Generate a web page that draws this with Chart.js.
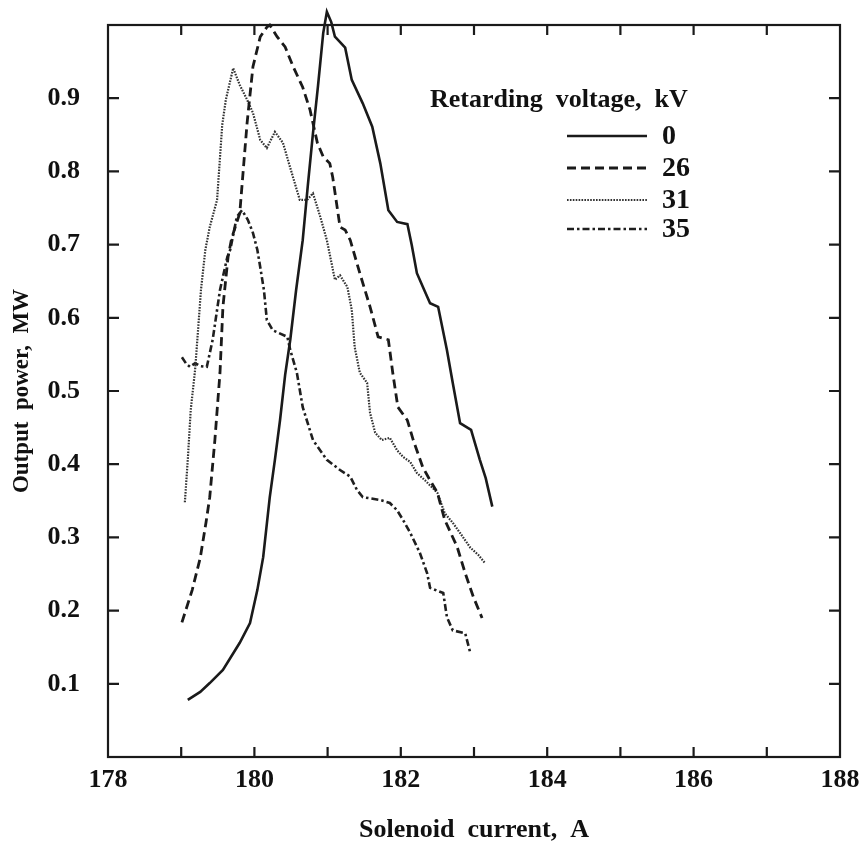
<!DOCTYPE html>
<html lang="en">
<head>
    <meta charset="UTF-8">
    <title>Output power vs solenoid current</title>
    <script src="https://cdn.jsdelivr.net/npm/chart.js"></script>
    <style>
        html, body { margin: 0; padding: 0; background: #fff; }
        #containerCanvas { width: 865px; height: 846px; }
    </style>
</head>
<body>
    <div id="containerCanvas">
        <canvas id="myChart" width="865" height="846"></canvas>
    </div>
</body>
</html>

<script>

// axis ticks
var xTickLabels = [178, 180, 182, 184, 186, 188];
var xTickMarks = [179, 180, 181, 182, 183, 184, 185, 186, 187];
var yTickLabels = [0.1, 0.2, 0.3, 0.4, 0.5, 0.6, 0.7, 0.8, 0.9];

var legendTitle = "Retarding  voltage,  kV";
var voltages = ["0", "26", "31", "35"];

// 0 kV
var current0 = [179.09, 179.26, 179.39, 179.57, 179.80, 179.94, 180.04, 180.12, 180.21, 180.28, 180.35, 180.42, 180.49, 180.57, 180.66, 180.73, 180.80, 180.87, 180.94, 180.99, 181.05, 181.10, 181.24, 181.33, 181.48, 181.61, 181.72, 181.83, 181.95, 182.09, 182.15, 182.22, 182.32, 182.40, 182.51, 182.63, 182.71, 182.81, 182.96, 183.08, 183.16, 183.25];
var power0 = [0.078, 0.089, 0.101, 0.119, 0.156, 0.183, 0.228, 0.273, 0.355, 0.406, 0.460, 0.522, 0.570, 0.638, 0.706, 0.781, 0.852, 0.918, 0.989, 1.018, 1.004, 0.984, 0.969, 0.925, 0.893, 0.861, 0.811, 0.747, 0.731, 0.728, 0.699, 0.661, 0.638, 0.620, 0.615, 0.556, 0.511, 0.456, 0.447, 0.406, 0.381, 0.342];

// 26 kV
var current26 = [179.01, 179.15, 179.26, 179.34, 179.39, 179.46, 179.53, 179.57, 179.64, 179.69, 179.80, 179.90, 179.98, 180.08, 180.17, 180.21, 180.31, 180.42, 180.53, 180.66, 180.76, 180.86, 180.94, 181.03, 181.07, 181.17, 181.24, 181.31, 181.44, 181.58, 181.69, 181.83, 181.89, 181.96, 182.09, 182.17, 182.30, 182.40, 182.50, 182.60, 182.77, 182.88, 182.99, 183.11];
var power26 = [0.184, 0.228, 0.272, 0.321, 0.355, 0.433, 0.525, 0.615, 0.683, 0.709, 0.743, 0.866, 0.943, 0.984, 0.997, 1.000, 0.984, 0.970, 0.943, 0.915, 0.884, 0.839, 0.820, 0.811, 0.792, 0.724, 0.720, 0.706, 0.661, 0.615, 0.574, 0.570, 0.525, 0.478, 0.460, 0.433, 0.396, 0.378, 0.361, 0.324, 0.287, 0.251, 0.219, 0.190];

// 31 kV
var current31 = [179.05, 179.09, 179.13, 179.19, 179.23, 179.27, 179.33, 179.39, 179.49, 179.56, 179.61, 179.71, 179.80, 179.90, 179.98, 180.08, 180.17, 180.28, 180.39, 180.51, 180.62, 180.72, 180.80, 180.90, 180.99, 181.10, 181.17, 181.27, 181.33, 181.37, 181.44, 181.54, 181.58, 181.65, 181.74, 181.85, 181.95, 182.03, 182.13, 182.22, 182.33, 182.50, 182.60, 182.71, 182.81, 182.95, 183.06, 183.15];
var power31 = [0.348, 0.406, 0.474, 0.529, 0.583, 0.638, 0.693, 0.724, 0.761, 0.863, 0.898, 0.941, 0.918, 0.898, 0.880, 0.843, 0.832, 0.854, 0.839, 0.798, 0.761, 0.761, 0.770, 0.738, 0.706, 0.652, 0.658, 0.642, 0.611, 0.560, 0.525, 0.511, 0.470, 0.443, 0.433, 0.436, 0.419, 0.410, 0.403, 0.388, 0.378, 0.361, 0.333, 0.320, 0.306, 0.286, 0.276, 0.265];

// 35 kV
var current35 = [179.01, 179.07, 179.12, 179.19, 179.26, 179.35, 179.43, 179.53, 179.63, 179.67, 179.76, 179.83, 179.91, 179.98, 180.04, 180.08, 180.13, 180.17, 180.25, 180.45, 180.49, 180.58, 180.66, 180.80, 180.99, 181.17, 181.31, 181.40, 181.48, 181.72, 181.85, 181.95, 182.03, 182.13, 182.26, 182.36, 182.40, 182.58, 182.63, 182.71, 182.88, 182.95];
var power35 = [0.546, 0.537, 0.533, 0.538, 0.534, 0.533, 0.570, 0.638, 0.683, 0.693, 0.738, 0.747, 0.734, 0.716, 0.693, 0.669, 0.638, 0.597, 0.583, 0.574, 0.556, 0.525, 0.478, 0.433, 0.406, 0.392, 0.383, 0.365, 0.355, 0.351, 0.347, 0.337, 0.324, 0.306, 0.279, 0.251, 0.231, 0.224, 0.191, 0.173, 0.169, 0.142];

var serif = "'Liberation Serif', 'Times New Roman', serif";

function pontos(xs, ys) {
    var lista = [];
    for (var i = 0; i < xs.length; i++) {
        lista.push({ x: xs[i], y: ys[i] });
    }
    return lista;
}

function serie(label, xs, ys, cor, dash, largura) {
    return {
        label: label,
        data: pontos(xs, ys),
        borderColor: cor,
        borderWidth: largura,
        borderDash: dash,
        pointRadius: 0,
        tension: 0,
        fill: false,
        clip: false
    };
}

// frame box with inward ticks on all four sides
var molduraPlugin = {
    id: "moldura",
    afterDraw: function (chart) {
        var ctx = chart.ctx;
        var a = chart.chartArea;
        var xs = chart.scales.x;
        var ys = chart.scales.y;
        ctx.save();
        ctx.strokeStyle = "#1a1a1a";
        ctx.lineWidth = 2.2;
        ctx.strokeRect(a.left, a.top, a.right - a.left, a.bottom - a.top);
        ctx.beginPath();
        xTickMarks.forEach(function (v) {
            var px = xs.getPixelForValue(v);
            ctx.moveTo(px, a.bottom);
            ctx.lineTo(px, a.bottom - 10);
            ctx.moveTo(px, a.top);
            ctx.lineTo(px, a.top + 10);
        });
        yTickLabels.forEach(function (v) {
            var py = ys.getPixelForValue(v);
            ctx.moveTo(a.left, py);
            ctx.lineTo(a.left + 11, py);
            ctx.moveTo(a.right, py);
            ctx.lineTo(a.right - 11, py);
        });
        ctx.stroke();
        ctx.restore();
    }
};

// legend drawn inside the plot, upper right
var legendaPlugin = {
    id: "legenda",
    afterDraw: function (chart) {
        var ctx = chart.ctx;
        ctx.save();
        ctx.fillStyle = "#111";
        ctx.font = "bold 26px " + serif;
        ctx.textBaseline = "middle";
        ctx.textAlign = "left";
        ctx.fillText(legendTitle, 430, 100);
        var linhas = [136, 168, 200, 229];
        chart.data.datasets.forEach(function (ds, i) {
            var y = linhas[i];
            ctx.beginPath();
            ctx.strokeStyle = ds.borderColor;
            ctx.lineWidth = ds.borderWidth;
            ctx.setLineDash(ds.borderDash || []);
            ctx.moveTo(567, y);
            ctx.lineTo(647, y);
            ctx.stroke();
            ctx.setLineDash([]);
            ctx.font = "bold 28px " + serif;
            ctx.fillText(ds.label, 662, y + 1);
        });
        ctx.restore();
    }
};

var dados = {
    datasets: [
        serie(voltages[0], current0, power0, "#1a1a1a", [], 2.6),
        serie(voltages[1], current26, power26, "#1a1a1a", [9, 5], 2.8),
        serie(voltages[2], current31, power31, "#333", [1.6, 1.3], 2.2),
        serie(voltages[3], current35, power35, "#1f1f1f", [7, 3, 2.5, 3], 2.6)
    ]
};

var options = {
    responsive: false,
    animation: false,
    layout: { padding: { top: 25, right: 25, left: 0, bottom: 0 } },
    plugins: {
        legend: { display: false },
        tooltip: { enabled: false }
    },
    scales: {
        x: {
            type: "linear",
            min: 178,
            max: 188,
            afterBuildTicks: function (scale) {
                scale.ticks = xTickLabels.map(function (v) { return { value: v }; });
            },
            afterFit: function (scale) {
                scale.height = 89;
                scale.paddingLeft = 0;
                scale.paddingRight = 0;
            },
            grid: { display: false, drawTicks: false },
            border: { display: false },
            ticks: {
                padding: 8,
                color: "#111",
                font: { family: serif, size: 26, weight: "bold" },
                callback: function (v) { return String(v); }
            },
            title: {
                display: true,
                text: "Solenoid  current,  A",
                color: "#111",
                font: { family: serif, size: 26, weight: "bold" },
                padding: { top: 0, bottom: 0 }
            }
        },
        y: {
            type: "linear",
            min: 0,
            max: 1,
            afterBuildTicks: function (scale) {
                scale.ticks = yTickLabels.map(function (v) { return { value: v }; });
            },
            afterFit: function (scale) {
                scale.width = 108;
                scale.paddingTop = 0;
                scale.paddingBottom = 0;
            },
            grid: { display: false, drawTicks: false },
            border: { display: false },
            ticks: {
                padding: 28,
                color: "#111",
                font: { family: serif, size: 26, weight: "bold" },
                callback: function (v) { return v.toFixed(1); }
            },
            title: {
                display: true,
                text: "Output  power,  MW",
                color: "#111",
                font: { family: serif, size: 23, weight: "bold" },
                padding: { top: 8, bottom: 0 }
            }
        }
    }
};

const config = {
    type: "line",
    data: dados,
    options: options,
    plugins: [molduraPlugin, legendaPlugin]
};

let myChart = new Chart(document.getElementById("myChart"), config);

</script>
